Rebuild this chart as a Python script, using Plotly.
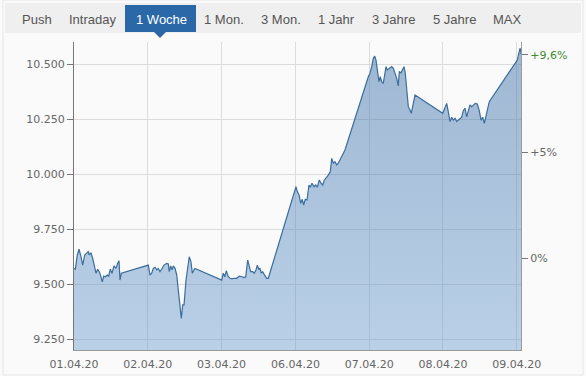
import plotly.graph_objects as go

# ---------------- data ----------------
day_labels = ["01.04.20", "02.04.20", "03.04.20", "06.04.20", "07.04.20", "08.04.20", "09.04.20"]
tabs = ["Push", "Intraday", "1 Woche", "1 Mon.", "3 Mon.", "1 Jahr", "3 Jahre", "5 Jahre", "MAX"]
active_tab = "1 Woche"

# position in trading days since 01.04.20 (0 = start of 01.04.)
t_days = [
    0.000, 0.018, 0.045, 0.068, 0.095, 0.118, 0.145, 0.172, 0.194, 0.207,
    0.230, 0.253, 0.275, 0.298, 0.321, 0.343, 0.362, 0.383, 0.402, 0.424,
    0.451, 0.470, 0.492, 0.515, 0.542, 0.569, 0.592, 0.610, 0.623, 0.641,
    1.007, 1.030, 1.053, 1.075, 1.098, 1.121, 1.142, 1.165, 1.188, 1.220,
    1.256, 1.278, 1.291, 1.310, 1.328, 1.346, 1.369, 1.392, 1.413, 1.436,
    1.454, 1.473, 1.491, 1.518, 1.549, 1.562, 1.585, 1.603, 1.626, 1.640,
    2.001, 2.023, 2.042, 2.064, 2.087, 2.114, 2.141, 2.168, 2.205, 2.240,
    2.276, 2.304, 2.327, 2.354, 2.371, 2.394, 2.421, 2.443, 2.466, 2.484,
    2.503, 2.520, 2.538, 2.557, 2.575, 2.592, 2.611, 2.633,
    3.008, 3.026, 3.049, 3.072, 3.093, 3.112, 3.134, 3.157, 3.184, 3.202,
    3.225, 3.252, 3.275, 3.297, 3.324, 3.347, 3.370, 3.392, 3.415, 3.438,
    3.459, 3.473, 3.492, 3.514, 3.537, 3.560, 3.581, 3.604, 3.627, 3.649,
    3.672,
    3.988, 4.011, 4.034, 4.056, 4.075, 4.092, 4.110, 4.133, 4.150, 4.169,
    4.191, 4.214, 4.228, 4.245, 4.272, 4.305, 4.327, 4.350, 4.373, 4.394,
    4.408, 4.431, 4.454, 4.472, 4.489, 4.508, 4.530, 4.553, 4.570, 4.589,
    4.621,
    4.996, 5.027, 5.050, 5.072, 5.095, 5.118, 5.140, 5.163, 5.186, 5.221,
    5.253, 5.275, 5.298, 5.321, 5.348, 5.366, 5.389, 5.411, 5.438, 5.465,
    5.492, 5.515, 5.538, 5.560, 5.583, 5.600, 5.627,
    6.007, 6.026, 6.043, 6.053, 6.057,
]

price = [
    9571, 9567, 9632, 9658, 9624, 9586, 9632, 9640, 9647, 9632,
    9642, 9617, 9586, 9549, 9567, 9556, 9536, 9510, 9536, 9533,
    9541, 9536, 9567, 9549, 9582, 9571, 9594, 9606, 9518, 9549,
    9586, 9541, 9549, 9571, 9576, 9564, 9571, 9556, 9567, 9586,
    9594, 9591, 9556, 9582, 9564, 9582, 9571, 9541, 9473, 9412,
    9344, 9405, 9405, 9518, 9609, 9624, 9601, 9549, 9564, 9571,
    9518, 9549, 9533, 9560, 9536, 9526, 9523, 9526, 9526, 9536,
    9533, 9529, 9533, 9609, 9586, 9556, 9556, 9549, 9564, 9586,
    9567, 9571, 9549, 9556, 9545, 9536, 9526, 9526,
    9942, 9920, 9905, 9867, 9885, 9859, 9885, 9882, 9950, 9940,
    9958, 9942, 9950, 9940, 9973, 9958, 9950, 9973, 9980, 9991,
    10003, 10010, 10071, 10049, 10056, 10041, 10049, 10064, 10079, 10094,
    10109,
    10442, 10458, 10488, 10526, 10536, 10518, 10473, 10420, 10442, 10420,
    10412, 10458, 10488, 10473, 10480, 10488, 10480, 10458, 10435, 10400,
    10465, 10460, 10473, 10488, 10458, 10397, 10306, 10291, 10276, 10306,
    10359,
    10276, 10299, 10321, 10283, 10238, 10258, 10245, 10253, 10238, 10249,
    10258, 10288, 10299, 10260, 10299, 10314, 10306, 10314, 10321, 10318,
    10288, 10245, 10258, 10230, 10268, 10283, 10329,
    10518, 10541, 10571, 10564, 10545,
]

prev_close = 9618
y_ticks = [9250, 9500, 9750, 10000, 10250, 10500]
pct_ticks = [0, 5, 9.6]
pct_labels = ["0%", "+5%", "<span style='color:#3d8b2f'>+9,6%</span>"]

# ---------------- layout geometry ----------------
W, H = 586, 376
ML, MR, MT, MB = 74, 65, 42, 26
PW, PH = W - ML - MR, H - MT - MB
y_range = [9200, 10600]
x_range = [0, 6.057]


def px_x(X):
    return (X - ML) / PW


def px_y(Y):
    return (H - MB - Y) / PH


fig = go.Figure()
fig.add_trace(go.Scatter(
    x=t_days, y=price, mode="lines",
    line=dict(color="#3b6d9d", width=1.2),
    fill="tozeroy",
    fillgradient=dict(
        type="vertical", start=y_range[0], stop=y_range[1],
        colorscale=[[0, "rgba(95,150,205,0.42)"], [1, "rgba(45,100,160,0.45)"]],
    ),
    hoverinfo="skip", showlegend=False,
))
# invisible trace for right axis
fig.add_trace(go.Scatter(x=[x_range[0]], y=[0], yaxis="y2", mode="markers",
                         marker=dict(opacity=0), hoverinfo="skip", showlegend=False))

pct_range = [(v / prev_close - 1) * 100 for v in y_range]

axis_font = dict(family="DejaVu Sans, Verdana, sans-serif", size=11, color="#666666")

fig.update_layout(
    width=W, height=H, autosize=False,
    margin=dict(l=ML, r=MR, t=MT, b=MB),
    paper_bgcolor="#fafafa", plot_bgcolor="#fafafa",
    separators=",.",
    xaxis=dict(
        range=x_range, tickvals=list(range(len(day_labels))), ticktext=day_labels,
        showgrid=True, gridcolor="#dcdcdc", gridwidth=1,
        showline=True, linecolor="#9a9a9a", linewidth=1,
        ticks="", tickfont=axis_font, ticklabelstandoff=4, automargin=False,
        zeroline=False, fixedrange=True,
    ),
    yaxis=dict(
        range=y_range, tickvals=y_ticks, tickformat=",d",
        showgrid=True, gridcolor="#dcdcdc", gridwidth=1,
        showline=True, linecolor="#777777", linewidth=1,
        ticks="outside", ticklen=6, tickcolor="#777777", automargin=False,
        tickfont=axis_font, zeroline=False, fixedrange=True,
    ),
    yaxis2=dict(
        range=pct_range, overlaying="y", side="right",
        tickvals=pct_ticks, ticktext=pct_labels,
        showgrid=False, showline=True, linecolor="#9a9a9a", linewidth=1,
        ticks="outside", ticklen=6, tickcolor="#777777", automargin=False,
        tickfont=axis_font, zeroline=False, fixedrange=True,
    ),
)

# ---------------- tab bar ----------------
shapes = []
shapes.append(dict(type="rect", xref="paper", yref="paper",
                   x0=px_x(3), x1=px_x(583), y0=px_y(375), y1=px_y(0),
                   line=dict(color="#e6e6e6", width=1), fillcolor="rgba(0,0,0,0)", layer="below"))
shapes.append(dict(type="rect", xref="paper", yref="paper",
                   x0=px_x(5), x1=px_x(581), y0=px_y(33), y1=px_y(3),
                   line=dict(width=0), fillcolor="#efefef", layer="above"))
shapes.append(dict(type="rect", xref="paper", yref="paper",
                   x0=px_x(125), x1=px_x(196), y0=px_y(32), y1=px_y(5),
                   line=dict(width=0), fillcolor="#2b68a8", layer="above"))
shapes.append(dict(type="path", xref="paper", yref="paper",
                   path=f"M {px_x(154)},{px_y(32)} L {px_x(166)},{px_y(32)} L {px_x(160)},{px_y(38)} Z",
                   line=dict(width=0), fillcolor="#2b68a8", layer="above"))

tab_centers = [37, 92, 161, 224, 281, 336, 393, 454, 507]
annotations = []
for name, cx in zip(tabs, tab_centers):
    annotations.append(dict(
        text=name, xref="paper", yref="paper", x=px_x(cx), y=px_y(19.5),
        xanchor="center", yanchor="middle", showarrow=False,
        font=dict(family="Liberation Sans, Arial, sans-serif", size=13,
                  color="#ffffff" if name == active_tab else "#555555"),
    ))

fig.update_layout(shapes=shapes, annotations=annotations)

fig.write_html("out.html")
